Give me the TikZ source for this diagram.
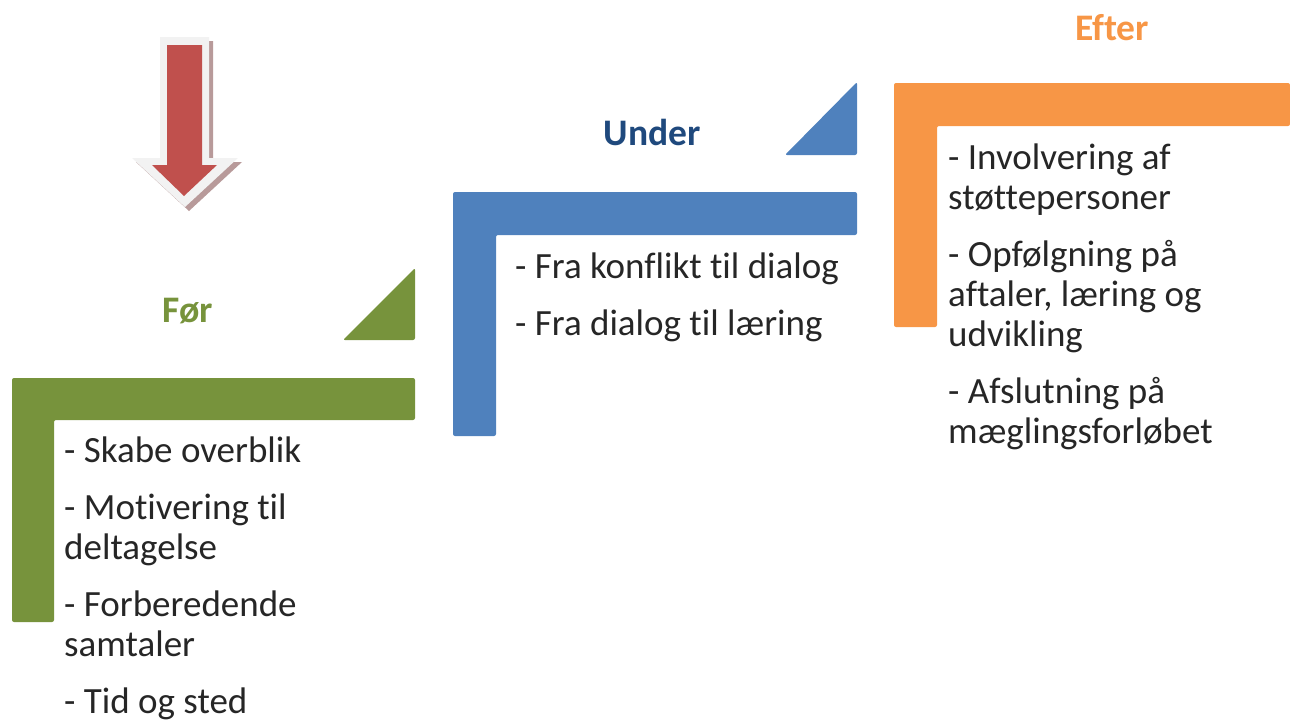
\documentclass[tikz,border=0pt]{standalone}
\usepackage{fontspec}
\setmainfont[Ligatures=NoCommon]{Carlito}
\usepackage{xcolor}
\usetikzlibrary{positioning}
\definecolor{forgreen}{HTML}{77933C}
\definecolor{underblue}{HTML}{4F81BD}
\definecolor{underdark}{HTML}{1F497D}
\definecolor{efterorange}{HTML}{F79646}
\definecolor{arrowred}{HTML}{C0504D}
\definecolor{arrowshadow}{HTML}{B89A9A}
\tikzset{
  bar/.style={rounded corners=2pt},
  phase/.style={font={\fontsize{37.5}{40}\selectfont\bfseries}},
  items/.style={anchor=north west, inner sep=0pt, align=left,
    font={\fontsize{37}{40}\selectfont}, text=black!85}
}
\begin{document}
\begin{tikzpicture}[x=1pt,y=-1pt]
\useasboundingbox (0,0) rectangle (1290,720);
% arrow
\fill[arrowshadow] (164,41) -- (213,41) -- (213,162) -- (242,162) -- (189,211) -- (136,162) -- (164,162) -- cycle;
\fill[black!5] (160,37) -- (209,37) -- (209,158) -- (238,158) -- (185,207) -- (132,158) -- (160,158) -- cycle;
\fill[arrowred] (167,45) -- (202,45) -- (202,165) -- (217,165) -- (184,196) -- (152,165) -- (167,165) -- cycle;
% Foer
\fill[forgreen, bar] (12,378) -- (415,378) -- (415,420) -- (54,420) -- (54,622) -- (12,622) -- cycle;
\fill[forgreen, bar] (343,340) -- (415,340) -- (415,268) -- cycle;
\node[phase, text=forgreen] (1) at (188,311) {Før};
\node[items] (1a) at (64,437) {- Skabe overblik\\[17pt]
  - Motivering til\\deltagelse\\[17pt]
  - Forberedende\\samtaler\\[17pt]
  - Tid og sted};
% Under
\fill[underblue, bar] (453,192) -- (857,192) -- (857,235) -- (496,235) -- (496,436) -- (453,436) -- cycle;
\fill[underblue, bar] (785,155) -- (857,155) -- (857,82) -- cycle;
\node[phase, text=underdark] (2) at (652,132) {Under};
\node[items] (2a) at (515,253) {- Fra konflikt til dialog\\[17pt]
  - Fra dialog til læring};
% Efter
\fill[efterorange, bar] (894,83) -- (1290,83) -- (1290,126) -- (937,126) -- (937,327) -- (894,327) -- cycle;
\node[phase, text=efterorange] (3) at (1112,28) {Efter};
\node[items] (3a) at (948,144) {- Involvering af\\støttepersoner\\[17pt]
  - Opfølgning på\\aftaler, læring og\\udvikling\\[17pt]
  - Afslutning på\\mæglingsforløbet};
\end{tikzpicture}
\end{document}
